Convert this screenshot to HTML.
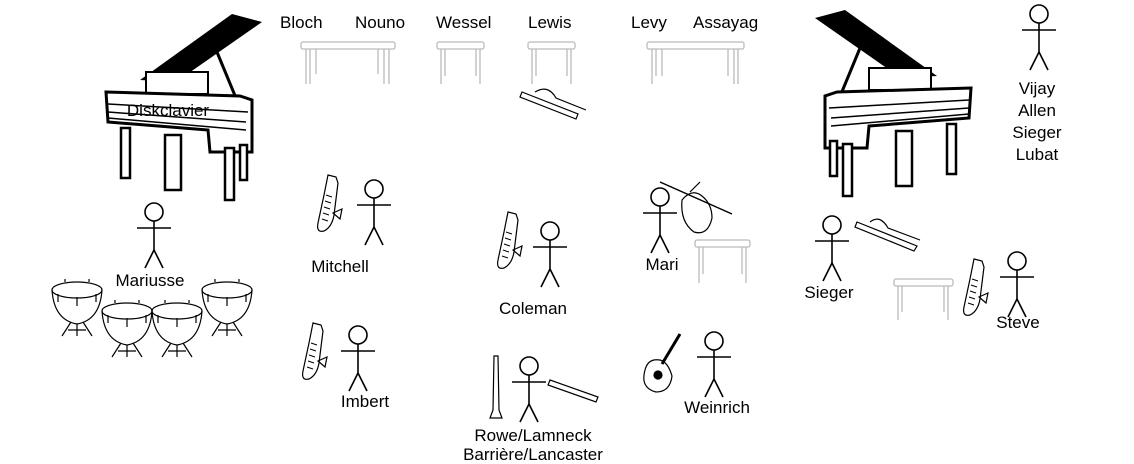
<!DOCTYPE html>
<html><head><meta charset="utf-8"><style>
html,body{margin:0;padding:0;background:#fff;}
svg{display:block;}
text{font-family:"Liberation Sans",sans-serif;font-size:17px;fill:#000;}
</style></head><body>
<svg width="1134" height="464" viewBox="0 0 1134 464" xmlns="http://www.w3.org/2000/svg">
<defs>
<g id="man" fill="none" stroke="#000" stroke-width="1.6">
<circle cx="0" cy="0" r="9"/>
<line x1="0" y1="9" x2="0" y2="38"/>
<line x1="-17" y1="16" x2="17" y2="16"/>
<line x1="0" y1="38" x2="-9" y2="56"/>
<line x1="0" y1="38" x2="9" y2="56"/>
</g>
<g id="sax" fill="none" stroke="#000" stroke-width="1.2">
<path d="M8,0 L16,2 L18,8 L14,40 Q12,52 4,56 Q-4,58 -2,48 L4,20 Z"/>
<path d="M13,38 L22,34 L20,44 Z"/>
<path d="M6,20 L12,22 M5,26 L11,28 M4,32 L10,34 M3,38 L9,40 M2,44 L8,46" stroke-width="1"/>
</g>
<g id="timp" fill="none" stroke="#000" stroke-width="1.2">
<ellipse cx="0" cy="0" rx="25" ry="8"/>
<path d="M-25,0 Q-23,30 0,34 Q23,30 25,0"/>
<path d="M-6,32 L-15,46 M6,32 L15,46 M0,34 L0,46 M-9,40 L9,40"/>
<path d="M-12,-8 l0,-3 M12,-8 l0,-3 M-19,4 l0,8 M0,7 l0,9 M19,4 l0,8"/>
</g>
<g id="piano">
<polygon points="140,80 232,14 262,22 176,82" fill="#000"/>
<line x1="212" y1="40" x2="236" y2="98" stroke="#000" stroke-width="3"/>
<rect x="146" y="72" width="62" height="22" fill="#fff" stroke="#000" stroke-width="2"/>
<path d="M106,92 L240,96 L252,100 L252,152 L210,152 L208,130 L108,122 Z" fill="#fff" stroke="#000" stroke-width="3"/>
<path d="M108,104 L248,112 M108,112 L246,122 M108,118 L246,130" stroke="#000" stroke-width="1.5"/>
<rect x="121" y="128" width="9" height="50" fill="#fff" stroke="#000" stroke-width="2.5"/>
<rect x="165" y="135" width="16" height="55" fill="#fff" stroke="#000" stroke-width="2.5"/>
<rect x="225" y="148" width="9" height="52" fill="#fff" stroke="#000" stroke-width="2.5"/>
<rect x="240" y="145" width="7" height="35" fill="#fff" stroke="#000" stroke-width="2.5"/>
</g>
</defs>

<use href="#piano"/>
<use href="#piano" transform="translate(1077,-4) scale(-1,1)"/>

<g fill="#fff" stroke="#bbb" stroke-width="1.3">
<rect x="301" y="42" width="94" height="7" rx="2"/>
<path d="M306,49 V84 M310,49 V84 M316,49 V74 M378,49 V74 M384,49 V84 M389,49 V84"/>
<rect x="437" y="42" width="47" height="7" rx="2"/>
<path d="M441,49 V84 M445,49 V76 M476,49 V76 M480,49 V84"/>
<rect x="528" y="42" width="47" height="7" rx="2"/>
<path d="M532,49 V84 M536,49 V76 M567,49 V76 M571,49 V84"/>
<rect x="647" y="42" width="97" height="7" rx="2"/>
<path d="M652,49 V84 M656,49 V76 M662,49 V76 M728,49 V76 M734,49 V84 M738,49 V84"/>
<rect x="695" y="240" width="55" height="7" rx="2"/>
<path d="M699,247 V283 M703,247 V274 M742,247 V274 M746,247 V283"/>
<rect x="894" y="279" width="59" height="7" rx="2"/>
<path d="M898,286 V320 M902,286 V312 M944,286 V312 M948,286 V320"/>
</g>

<g fill="none" stroke="#000" stroke-width="1.2">
<path d="M522,92 L578,114 L576,119 L520,97 Z M535,92 Q548,84 556,98 L586,110"/>
<path d="M857,222 L917,246 L914,251 L855,227 Z M870,222 Q880,214 888,228 L920,240"/>
</g>

<use href="#sax" transform="translate(320,175)"/>
<use href="#sax" transform="translate(305,323)"/>
<use href="#sax" transform="translate(500,212)"/>
<use href="#sax" transform="translate(966,259)"/>

<g fill="none" stroke="#000" stroke-width="1.2">
<path d="M682,200 Q692,188 702,196 Q712,204 712,218 Q708,236 694,232 Q680,222 682,200 Z"/>
<line x1="660" y1="182" x2="732" y2="214" stroke-width="1.5"/>
<line x1="690" y1="192" x2="700" y2="182"/>
</g>
<g fill="none" stroke="#000" stroke-width="1.2">
<path d="M645,370 Q640,388 656,392 Q670,392 672,376 Q668,362 660,360 Q648,358 645,370 Z"/>
<circle cx="658" cy="375" r="4" fill="#000"/>
<line x1="662" y1="364" x2="680" y2="334" stroke-width="3"/>
</g>
<g fill="none" stroke="#000" stroke-width="1.2">
<path d="M494,356 L498,356 L499,410 L502,418 L490,418 L493,410 Z"/>
<path d="M550,380 L598,397 L596,402 L548,385 Z"/>
</g>

<use href="#timp" transform="translate(77,290)"/>
<use href="#timp" transform="translate(127,311)"/>
<use href="#timp" transform="translate(177,311)"/>
<use href="#timp" transform="translate(227,290)"/>

<use href="#man" transform="translate(154,212)"/>
<use href="#man" transform="translate(374,189)"/>
<use href="#man" transform="translate(358,335)"/>
<use href="#man" transform="translate(550,231)"/>
<use href="#man" transform="translate(529,366)"/>
<use href="#man" transform="translate(660,197)"/>
<use href="#man" transform="translate(714,341)"/>
<use href="#man" transform="translate(832,225)"/>
<use href="#man" transform="translate(1017,261)"/>
<use href="#man" transform="translate(1039,14)"/>

<text x="280" y="28">Bloch</text>
<text x="355" y="28">Nouno</text>
<text x="436" y="28">Wessel</text>
<text x="528" y="28">Lewis</text>
<text x="631" y="28">Levy</text>
<text x="693" y="28">Assayag</text>
<text x="168" y="116" text-anchor="middle">Diskclavier</text>
<text x="150" y="286" text-anchor="middle">Mariusse</text>
<text x="340" y="272" text-anchor="middle">Mitchell</text>
<text x="365" y="407" text-anchor="middle">Imbert</text>
<text x="533" y="314" text-anchor="middle">Coleman</text>
<text x="662" y="270" text-anchor="middle">Mari</text>
<text x="717" y="413" text-anchor="middle">Weinrich</text>
<text x="829" y="298" text-anchor="middle">Sieger</text>
<text x="1018" y="328" text-anchor="middle">Steve</text>
<text x="533" y="441" text-anchor="middle">Rowe/Lamneck</text>
<text x="533" y="460" text-anchor="middle">Barrière/Lancaster</text>
<text x="1037" y="94" text-anchor="middle">Vijay</text>
<text x="1037" y="116" text-anchor="middle">Allen</text>
<text x="1037" y="138" text-anchor="middle">Sieger</text>
<text x="1037" y="160" text-anchor="middle">Lubat</text>
</svg>
</body></html>
